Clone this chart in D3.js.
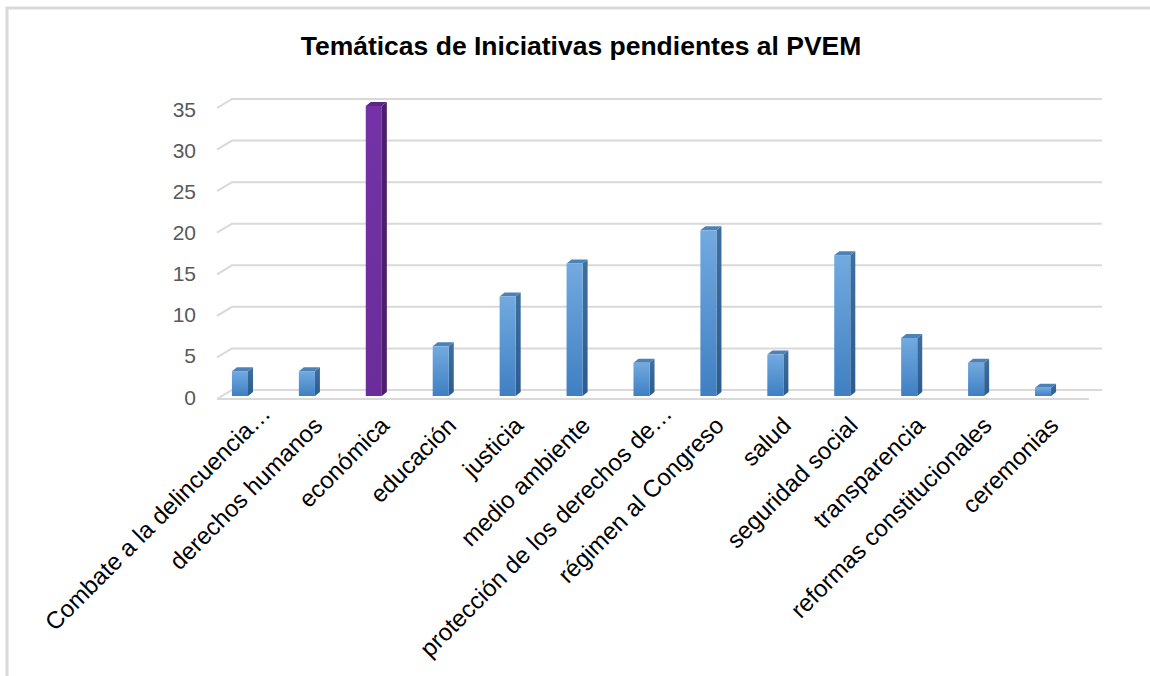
<!DOCTYPE html>
<html>
<head>
<meta charset="utf-8">
<script src="https://cdn.jsdelivr.net/npm/d3@7"></script>
<style>
  body { margin: 0; background: #fff; }
  text { font-family: "Liberation Sans", Arial, sans-serif; }
</style>
</head>
<body>
<div id="chart"></div>
<script>
// chart data
var categories = ["Combate a la delincuencia…", "derechos humanos", "económica", "educación",
  "justicia", "medio ambiente", "protección de los derechos de…", "régimen al Congreso",
  "salud", "seguridad social", "transparencia", "reformas constitucionales", "ceremonias"];
var values = [3, 3, 35, 6, 12, 16, 4, 20, 5, 17, 7, 4, 1];
var yTicks = [0, 5, 10, 15, 20, 25, 30, 35];
var highlighted = ["económica"];
var title = "Temáticas de Iniciativas pendientes al PVEM";

var W = 1150, H = 676;
var depth = {dx: 15, dy: -9};      // wall depth
var barDepth = {dx: 5, dy: -4};    // bar depth

var svg = d3.select("#chart").append("svg")
    .attr("width", W)
    .attr("height", H);

var defs = svg.append("defs");
function grad(id, c1, c2) {
  var g = defs.append("linearGradient").attr("id", id)
      .attr("x1", 0).attr("y1", 0).attr("x2", 0).attr("y2", 1);
  g.append("stop").attr("offset", "0%").attr("stop-color", c1);
  g.append("stop").attr("offset", "100%").attr("stop-color", c2);
}
grad("blueFront", "#72aae0", "#3f7fc2");
grad("blueSide", "#3d6f9f", "#2c5c8d");
grad("purpleFront", "#7432a6", "#6a2d99");

// chart area border
svg.append("path")
    .attr("d", "M7,680 V8 H1160")
    .attr("fill", "none")
    .attr("stroke", "#d9d9d9")
    .attr("stroke-width", 3);

// Scales
var x = d3.scaleBand()
    .domain(categories)
    .range([206.5, 1076.5])
    .paddingInner(0.76)
    .paddingOuter(0.38);

var yGrid = d3.scaleLinear().domain([0, 35]).range([390, 99]);
var yBar = d3.scaleLinear().domain([0, 35]).range([396, 106]);
var yLabel = d3.scaleLinear().domain([0, 35]).range([399, 111]);

var backLeft = 232, backRight = 1102;

// gridlines (back wall + side diagonal)
var grid = svg.append("g").attr("class", "grid");
grid.selectAll("path")
    .data(yTicks)
    .enter()
    .append("path")
    .attr("d", function(d) {
      var y = yGrid(d);
      return "M" + (backLeft - depth.dx) + "," + (y - depth.dy) + " L" + backLeft + "," + y + " H" + backRight;
    })
    .attr("fill", "none")
    .attr("stroke", "#d9d9d9")
    .attr("stroke-width", 2);

// floor front edge
svg.append("line")
    .attr("x1", backLeft - depth.dx)
    .attr("x2", 1089)
    .attr("y1", yGrid(0) - depth.dy)
    .attr("y2", yGrid(0) - depth.dy)
    .attr("stroke", "#d9d9d9")
    .attr("stroke-width", 2);

// Y tick labels
svg.append("g")
    .selectAll("text")
    .data(yTicks)
    .enter()
    .append("text")
    .attr("x", 196)
    .attr("y", function(d) { return yLabel(d); })
    .attr("text-anchor", "end")
    .attr("dominant-baseline", "middle")
    .style("font-size", "21px")
    .attr("fill", "#595959")
    .text(function(d) { return d; });

// Bars
var bw = x.bandwidth();
var y0 = yBar(0);
var bars = svg.append("g")
    .selectAll("g")
    .data(categories.map(function(c, i) { return {cat: c, v: values[i]}; }))
    .enter()
    .append("g");

function isHi(d) { return highlighted.indexOf(d.cat) >= 0; }

bars.append("path")  // side
    .attr("d", function(d) {
      var xr = x(d.cat) + bw, yt = yBar(d.v);
      return "M" + xr + "," + yt + " L" + (xr + barDepth.dx) + "," + (yt + barDepth.dy) +
        " L" + (xr + barDepth.dx) + "," + (y0 + barDepth.dy) + " L" + xr + "," + y0 + "Z";
    })
    .attr("fill", function(d) { return isHi(d) ? "#4b1f6c" : "url(#blueSide)"; });

bars.append("path")  // top
    .attr("d", function(d) {
      var xl = x(d.cat), yt = yBar(d.v);
      return "M" + xl + "," + yt + " L" + (xl + barDepth.dx) + "," + (yt + barDepth.dy) +
        " L" + (xl + bw + barDepth.dx) + "," + (yt + barDepth.dy) + " L" + (xl + bw) + "," + yt + "Z";
    })
    .attr("fill", function(d) { return isHi(d) ? "#5d2787" : "#4d82b8"; });

bars.append("rect")  // front
    .attr("x", function(d) { return x(d.cat); })
    .attr("y", function(d) { return yBar(d.v); })
    .attr("width", bw)
    .attr("height", function(d) { return y0 - yBar(d.v); })
    .attr("fill", function(d) { return isHi(d) ? "url(#purpleFront)" : "url(#blueFront)"; });

// Category labels
svg.append("g")
    .selectAll("text")
    .data(categories)
    .enter()
    .append("text")
    .attr("transform", function(d) {
      var cx = x(d) + bw / 2 + 17, cy = 427;
      if (d.slice(-1) === "…") { cx += 15; cy -= 12; }
      return "translate(" + cx + "," + cy + ")rotate(-45)";
    })
    .attr("text-anchor", "end")
    .style("font-size", "24px")
    .attr("fill", "#000")
    .text(function(d) { return d; });

// Chart Title
svg.append("text")
    .attr("x", 581)
    .attr("y", 55)
    .attr("text-anchor", "middle")
    .style("font-size", "26.5px")
    .style("font-weight", "bold")
    .text(title);
</script>
</body>
</html>
